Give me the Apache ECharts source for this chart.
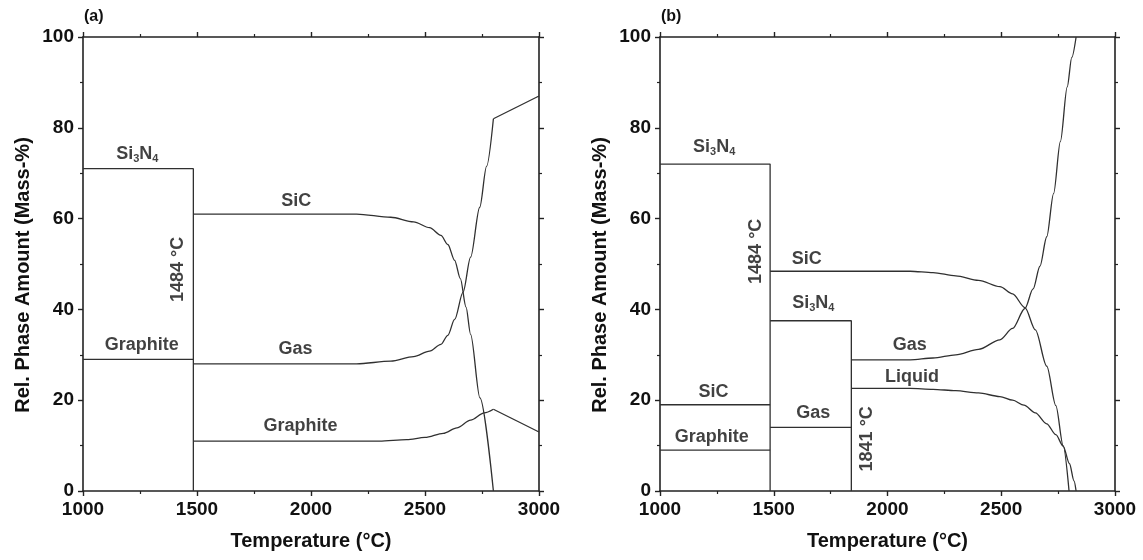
<!DOCTYPE html>
<html><head><meta charset="utf-8">
<script src="https://cdn.jsdelivr.net/npm/echarts@6/dist/echarts.min.js"></script>
<style>html,body{margin:0;padding:0;background:#fff}#c{width:1143px;height:560px}</style>
</head><body><div id="c"></div>
<script>
// ---------- Panel (a) data: [temperature °C, mass-%] ----------
const aSi3N4 = [[1000,71],[1484,71],[1484,0]];
const aGraphiteLow = [[1000,29],[1484,29]];
const aSiC = [[1484,61],[2200,61],[2350,60.3],[2450,59.3],[2520,58],[2570,56.3],[2600,54.3],[2630,50.8],[2655,46.8],[2680,40.5],[2700,34.5],[2741,20.5],[2800,0]];
const aGasCurve = [[1484,28],[2200,28],[2350,28.6],[2450,29.6],[2520,30.8],[2570,32.3],[2600,34.3],[2630,37.8],[2667,43.8],[2700,51.5],[2740,62.5],[2770,71.5],[2800,82]];
const aGasHigh = [[2800,82],[3000,87]];
const aGraphiteCurve = [[1484,11],[2300,11],[2420,11.3],[2500,11.8],[2580,12.7],[2640,13.9],[2700,15.6],[2760,17.2],[2800,18]];
const aGraphiteHigh = [[2800,18],[3000,13]];

// ---------- Panel (b) data ----------
const bSi3N4 = [[1000,72],[1484,72],[1484,0]];
const bSiCLow = [[1000,19],[1484,19]];
const bGraphite = [[1000,9],[1484,9]];
const bSi3N4Mid = [[1484,37.5],[1841,37.5],[1841,0]];
const bGasMid = [[1484,14],[1841,14]];
const bSiC = [[1484,48.4],[2100,48.4],[2200,48.1],[2300,47.4],[2400,46.4],[2494,45],[2550,43.4],[2604,40.4],[2650,35.5],[2700,27.5],[2740,18.8],[2772,10],[2798,0]];
const bGas = [[1841,28.9],[2100,28.9],[2200,29.3],[2300,30],[2400,31.2],[2494,33.3],[2550,35.8],[2604,40.2],[2640,44.5],[2670,49.5],[2700,56],[2730,65.5],[2760,77],[2790,89],[2810,95.5],[2829,100]];
const bLiquid = [[1841,22.6],[2100,22.6],[2200,22.4],[2300,22.1],[2400,21.6],[2494,20.8],[2550,20],[2600,18.9],[2650,17.2],[2700,14.8],[2740,12.4],[2772,9.9],[2800,6],[2820,2.2],[2829,0]];

// ---------- Axes ----------
const xRange = [1000, 3000], xStep = 500;
const yRange = [0, 100], yStep = 20;
const xTitle = 'Temperature (°C)';
const yTitle = 'Rel. Phase Amount (Mass-%)';
const panelTags = ['(a)', '(b)'];

// ---------- In-plot labels: [x, y, text] ----------
const SI3N4 = '{n|Si}{s|3}{n|N}{s|4}';
const aLabels = [[1238,74.3,SI3N4],[1935,63.9,'SiC'],[1258,32.1,'Graphite'],[1932,31.2,'Gas'],[1954,14.4,'Graphite']];
const aRotLabels = [[1415,48.8,'1484 °C']];
const bLabels = [[1238,75.8,SI3N4],[1645,51,'SiC'],[1674,41.4,SI3N4],[2098,32.1,'Gas'],[2108,25.1,'Liquid'],[1235,21.9,'SiC'],[1674,17.1,'Gas'],[1227,11.9,'Graphite']];
const bRotLabels = [[1423,52.8,'1484 °C'],[1910,11.5,'1841 °C']];

const FONT = '"Liberation Sans", Arial, Helvetica, sans-serif';
const AX = '#222222';
const LN = '#303030';
const TXT = '#111111';

function xAxis(grid, pos) {
  const main = pos === 'bottom';
  return {
    type: 'value', gridIndex: grid, position: pos, min: xRange[0], max: xRange[1], interval: xStep,
    axisLine: { show: true, onZero: false, lineStyle: { color: AX, width: 1.6 } },
    axisTick: { show: true, length: 5, lineStyle: { color: AX, width: 1.4 } },
    minorTick: { show: true, splitNumber: 2, length: 3, lineStyle: { color: AX, width: 1.2 } },
    splitLine: { show: false },
    axisLabel: { show: main, fontSize: 19, fontWeight: 'bold', color: TXT, fontFamily: FONT, margin: 9, formatter: v => String(v) },
    name: main ? xTitle : '', nameLocation: 'middle', nameGap: 40,
    nameTextStyle: { fontSize: 20, fontWeight: 'bold', color: TXT, fontFamily: FONT }
  };
}
function yAxis(grid, pos) {
  const main = pos === 'left';
  return {
    type: 'value', gridIndex: grid, position: pos, min: yRange[0], max: yRange[1], interval: yStep,
    axisLine: { show: true, onZero: false, lineStyle: { color: AX, width: 1.6 } },
    axisTick: { show: true, length: 5, lineStyle: { color: AX, width: 1.4 } },
    minorTick: { show: true, splitNumber: 2, length: 3, lineStyle: { color: AX, width: 1.2 } },
    splitLine: { show: false },
    axisLabel: { show: main, fontSize: 19, fontWeight: 'bold', color: TXT, fontFamily: FONT, margin: 9, formatter: v => String(v) }
  };
}

function line(data, g, smooth) {
  const s = {
    type: 'line', xAxisIndex: g * 2, yAxisIndex: g * 2, data: data,
    showSymbol: false, symbol: 'none', smooth: smooth ? 0.3 : false,
    lineStyle: { color: LN, width: 1.3 }, silent: true, z: 3
  };
  if (smooth) s.smoothMonotone = 'x';
  return s;
}
const rich = {
  n: { fontSize: 18, fontWeight: 'bold', color: TXT, fontFamily: FONT },
  s: { fontSize: 11, fontWeight: 'bold', color: TXT, fontFamily: FONT, padding: [10, 0, 0, 0] }
};
function labels(data, g, rot) {
  return {
    type: 'scatter', xAxisIndex: g * 2, yAxisIndex: g * 2, data: data, symbolSize: 0.01, silent: true, z: 5,
    itemStyle: { color: 'rgba(0,0,0,0)' },
    label: {
      show: true, position: 'inside', rotate: rot ? 90 : 0,
      formatter: p => p.data[2],
      fontSize: 18, fontWeight: 'bold', color: TXT, fontFamily: FONT, rich: rich
    }
  };
}
function yTitleText(cx) {
  return {
    type: 'text', x: cx, y: 275, rotation: Math.PI / 2,
    style: { text: yTitle, fontSize: 20, fontWeight: 'bold', fill: TXT, fontFamily: FONT, textAlign: 'center', textVerticalAlign: 'middle' }
  };
}

const chart = echarts.init(document.getElementById('c'), null, { renderer: 'canvas' });
chart.setOption({
  animation: false,
  backgroundColor: '#ffffff',
  grid: [
    { left: 83, right: 604, top: 37, bottom: 69 },
    { left: 660, right: 28, top: 37, bottom: 69 }
  ],
  xAxis: [xAxis(0, 'bottom'), xAxis(0, 'top'), xAxis(1, 'bottom'), xAxis(1, 'top')],
  yAxis: [yAxis(0, 'left'), yAxis(0, 'right'), yAxis(1, 'left'), yAxis(1, 'right')],
  graphic: [
    { type: 'text', left: 84, top: 9, style: { text: panelTags[0], fontSize: 16, fontWeight: 'bold', fill: TXT, fontFamily: FONT } },
    { type: 'text', left: 661, top: 9, style: { text: panelTags[1], fontSize: 16, fontWeight: 'bold', fill: TXT, fontFamily: FONT } },
    yTitleText(23), yTitleText(600)
  ],
  series: [
    line(aSi3N4, 0), line(aGraphiteLow, 0), line(aSiC, 0, true), line(aGasCurve, 0, true), line(aGasHigh, 0),
    line(aGraphiteCurve, 0, true), line(aGraphiteHigh, 0),
    line(bSi3N4, 1), line(bSiCLow, 1), line(bGraphite, 1), line(bSi3N4Mid, 1), line(bGasMid, 1),
    line(bSiC, 1, true), line(bGas, 1, true), line(bLiquid, 1, true),
    labels(aLabels, 0), labels(aRotLabels, 0, true), labels(bLabels, 1), labels(bRotLabels, 1, true)
  ]
});
</script></body></html>
